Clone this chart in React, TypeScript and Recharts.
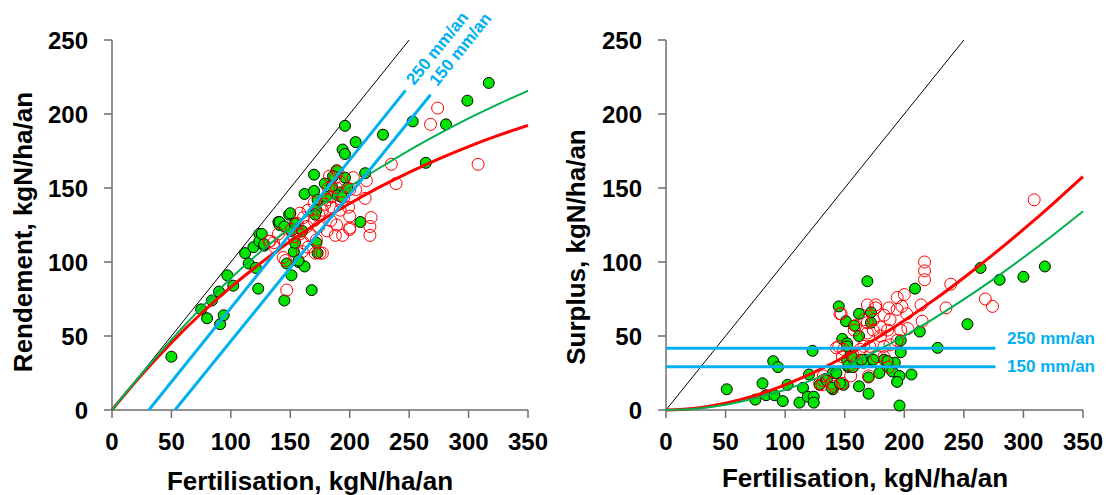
import {
  ComposedChart,
  Scatter,
  Line,
  XAxis,
  YAxis,
  ReferenceLine,
  ReferenceDot,
  Label,
} from "recharts";

const xTicks = [0, 50, 100, 150, 200, 250, 300, 350];
const yTicks = [0, 50, 100, 150, 200, 250];

// Rendement (left panel) - filled green points
const rendGreenX = [
  50, 75, 80, 84, 90, 91, 94, 97, 102, 112, 115, 119, 121, 123, 124, 124, 128, 140, 141, 145,
  147, 149, 151, 153, 154, 157, 162, 168, 172, 173, 209, 151, 196, 205, 194, 196, 228, 253, 281, 299,
  317, 264, 213, 189, 186, 196, 170, 179, 162, 170, 192, 198, 185, 150, 173, 180, 190, 193, 141, 145,
  154, 126, 128, 160, 172, 171, 157,
];
const rendGreenY = [
  36, 68, 62, 74, 80, 58, 64, 91, 84, 106, 99, 110, 96, 82, 119, 114, 111, 127, 125, 74,
  99, 132, 91, 107, 113, 100, 97, 81, 113, 106, 127, 121, 192, 181, 176, 173, 186, 195, 193, 209,
  221, 167, 160, 162, 158, 157, 159, 153, 146, 148, 147, 150, 151, 133, 142, 144, 145, 144, 127, 124,
  126, 119, 112, 121, 135, 132, 101,
];

// Rendement (left panel) - open red points
const rendRedX = [
  274, 268, 235, 239, 308, 214, 213, 218, 217, 217, 200, 200, 194, 188, 189, 192, 184, 181, 175, 171,
  165, 167, 172, 174, 170, 165, 177, 181, 185, 189, 192, 188, 200, 205, 195, 158, 156, 161, 151, 153,
  144, 140, 133, 137, 161, 160, 144, 147, 177, 185, 193, 199, 179, 170, 174, 164, 158, 182, 203, 132,
  136, 146, 200, 190, 183,
];
const rendRedY = [
  204, 193, 166, 153, 166, 155, 143, 130, 124, 118, 131, 123, 118, 118, 125, 135, 128, 121, 106, 106,
  110, 118, 115, 124, 128, 135, 135, 142, 144, 150, 154, 157, 149, 149, 144, 133, 126, 130, 122, 117,
  115, 119, 114, 110, 113, 107, 103, 81, 106, 137, 140, 137, 139, 140, 132, 124, 119, 150, 157, 114,
  113, 101, 122, 161, 158,
];

// Surplus (right panel) - filled green points
const surpGreenX = [
  51, 81, 75, 84, 91, 98, 90, 94, 102, 112, 115, 119, 124, 124, 120, 123, 129, 134, 140, 140,
  149, 145, 148, 151, 152, 155, 153, 158, 162, 162, 169, 170, 170, 172, 172, 167, 173, 179, 183, 188,
  190, 196, 194, 196, 197, 197, 206, 209, 213, 228, 253, 264, 280, 300, 318, 192, 186, 166, 152, 162,
  135, 139, 143, 146, 153, 157, 152, 156, 164, 174,
];
const surpGreenY = [
  14, 18, 7, 10, 10, 6, 33, 29, 17, 5, 15, 9, 9, 5, 24, 40, 17, 21, 14, 25,
  17, 70, 48, 60, 45, 38, 29, 57, 65, 16, 87, 11, 22, 66, 59, 34, 34, 25, 34, 28,
  26, 23, 19, 3, 39, 47, 24, 82, 53, 42, 58, 96, 88, 90, 97, 32, 33, 32, 34, 50,
  20, 15, 25, 18, 30, 29, 43, 36, 34, 34,
];

// Surplus (right panel) - open red points
const surpRedX = [
  217, 217, 217, 239, 268, 274, 235, 214, 215, 203, 200, 194, 198, 187, 176, 183, 188, 197, 194, 188,
  180, 174, 169, 166, 158, 147, 143, 149, 157, 160, 155, 170, 177, 183, 187, 171, 166, 132, 148, 141,
  131, 194, 202, 180, 186, 163, 183, 174, 309, 146, 132, 129, 145, 139, 148, 159, 169, 176, 169,
];
const surpRedY = [
  100, 94, 88, 85, 75, 70, 69, 71, 60, 55, 78, 76, 70, 69, 71, 64, 61, 54, 47, 44,
  50, 54, 52, 61, 54, 65, 42, 41, 37, 32, 23, 23, 36, 43, 29, 43, 43, 20, 18, 16,
  17, 68, 65, 56, 54, 41, 36, 61, 142, 65, 23, 18, 43, 18, 36, 57, 71, 69, 59,
];

// fitted curves, every 25 kgN
const curveX = [0, 25, 50, 75, 100, 125, 150, 175, 200, 225, 250, 275, 300, 325, 350];
const rendRedCurve = [0, 23.8, 45.5, 65.2, 83.0, 99.2, 114.0, 127.4, 139.5, 150.6, 160.6, 169.7, 178.0, 185.5, 192.3];
const rendGreenCurve = [0, 24.5, 47.5, 69, 89, 107, 123, 137.5, 151, 163.5, 175.5, 186.6, 197.0, 206.7, 215.7];
const surpRedCurve = [0, 1.2, 4.5, 9.8, 17.0, 25.8, 36.0, 47.6, 60.5, 74.4, 89.4, 105.3, 122.0, 139.5, 157.7];
const surpGreenCurve = [0, 0.9, 3.6, 7.9, 13.7, 21.0, 29.5, 39.2, 50.0, 61.9, 74.7, 88.4, 103.0, 118.3, 134.3];

// rainfall reference lines
const rainLabels = ["250 mm/an", "150 mm/an"];
const rendRainStartX = [31, 53];
const rendRainEndX = [247, 268];
const rendRainEndY = [216, 213];
const rendRainLabelX = [254.2, 273.6];
const rendRainLabelY = [218.9, 218.2];
const surpRainY = [41.7, 29.3];
const surpRainEndX = 276.5;
const surpRainLabelX = 286.3;
const surpRainLabelY = [44.6, 26.0];

const zip = (xs: number[], ys: number[]) => xs.map((x, i) => ({ x, y: ys[i] }));

const FONT = "'Liberation Sans', Arial, sans-serif";
const AXIS_GREY = "#6e6e6e";
const BLUE = "#00b0f0";
const GREEN_DOT = "#00e400";
const GREEN_LINE = "#00b050";
const RED = "#ff0000";

const greenDot = (p: any) => (
  <circle cx={p.cx} cy={p.cy} r={5.5} fill={GREEN_DOT} stroke="#000" strokeWidth={1} />
);
const redDot = (p: any) => (
  <circle cx={p.cx} cy={p.cy} r={6} fill="none" stroke={RED} strokeWidth={1} />
);

const tickStyle = { fill: "#000", fontSize: 24, fontWeight: "bold", fontFamily: FONT };

function rainText(label: string, angle: number) {
  return (p: any) => (
    <text
      x={p.cx}
      y={p.cy}
      transform={angle ? `rotate(${angle} ${p.cx} ${p.cy})` : undefined}
      fill={BLUE}
      fontSize={17}
      fontWeight="bold"
      fontFamily={FONT}
      textAnchor="start"
    >
      {label}
    </text>
  );
}

interface PanelProps {
  yTitle: string;
  yTitleX: number;
  yTitleY: number;
  xTitleX: number;
  xTitleY: number;
  yAxisWidth: number;
  marginRight: number;
  green: { x: number; y: number }[];
  red: { x: number; y: number }[];
  greenCurve: { x: number; y: number }[];
  redCurve: { x: number; y: number }[];
  extras: any[];
}

function Panel(props: PanelProps) {
  return (
    <ComposedChart
      width={553}
      height={495}
      margin={{ top: 40, right: props.marginRight, left: 0, bottom: 0 }}
    >
      <XAxis
        type="number"
        dataKey="x"
        domain={[0, 350]}
        ticks={xTicks}
        tickSize={8}
        tickMargin={15}
        height={85}
        tick={tickStyle}
        axisLine={{ stroke: AXIS_GREY, strokeWidth: 1.5 }}
        tickLine={{ stroke: AXIS_GREY, strokeWidth: 1.5 }}
      >
        <Label
          content={() => (
            <text
              x={props.xTitleX}
              y={props.xTitleY}
              textAnchor="middle"
              fontSize={26}
              fontWeight="bold"
              fontFamily={FONT}
              fill="#000"
            >
              Fertilisation, kgN/ha/an
            </text>
          )}
        />
      </XAxis>
      <YAxis
        type="number"
        dataKey="y"
        domain={[0, 250]}
        ticks={yTicks}
        width={props.yAxisWidth}
        tickSize={8}
        tickMargin={16}
        tick={tickStyle}
        axisLine={{ stroke: AXIS_GREY, strokeWidth: 1.5 }}
        tickLine={{ stroke: AXIS_GREY, strokeWidth: 1.5 }}
      >
        <Label
          content={() => (
            <text
              x={props.yTitleX}
              y={props.yTitleY}
              transform={`rotate(-90 ${props.yTitleX} ${props.yTitleY})`}
              textAnchor="middle"
              fontSize={26}
              fontWeight="bold"
              fontFamily={FONT}
              fill="#000"
            >
              {props.yTitle}
            </text>
          )}
        />
      </YAxis>
      <ReferenceLine
        segment={[
          { x: 0, y: 0 },
          { x: 250, y: 250 },
        ]}
        stroke="#000"
        strokeWidth={1}
        ifOverflow="visible"
      />
      <Scatter data={props.green} shape={greenDot} isAnimationActive={false} zIndex={600} />
      <Scatter data={props.red} shape={redDot} isAnimationActive={false} zIndex={610} />
      <Line
        data={props.redCurve}
        dataKey="y"
        type="monotone"
        stroke={RED}
        strokeWidth={3}
        dot={false}
        activeDot={false}
        isAnimationActive={false}
        zIndex={650}
      />
      <Line
        data={props.greenCurve}
        dataKey="y"
        type="monotone"
        stroke={GREEN_LINE}
        strokeWidth={2}
        dot={false}
        activeDot={false}
        isAnimationActive={false}
        zIndex={660}
      />
      {props.extras}
    </ComposedChart>
  );
}

export default function App() {
  const leftExtras = [
    ...rainLabels.map((lab, i) => (
      <ReferenceLine
        key={"rl" + i}
        segment={[
          { x: rendRainStartX[i], y: 0 },
          { x: rendRainEndX[i], y: rendRainEndY[i] },
        ]}
        stroke={BLUE}
        strokeWidth={3}
        ifOverflow="visible"
        zIndex={680}
      />
    )),
    ...rainLabels.map((lab, i) => (
      <ReferenceDot
        key={"rlt" + i}
        x={rendRainLabelX[i]}
        y={rendRainLabelY[i]}
        r={0}
        ifOverflow="visible"
        zIndex={690}
        shape={rainText(lab, -51.2)}
      />
    )),
  ];
  const rightExtras = [
    ...rainLabels.map((lab, i) => (
      <ReferenceLine
        key={"rr" + i}
        segment={[
          { x: 0, y: surpRainY[i] },
          { x: surpRainEndX, y: surpRainY[i] },
        ]}
        stroke={BLUE}
        strokeWidth={3}
        ifOverflow="visible"
        zIndex={680}
      />
    )),
    ...rainLabels.map((lab, i) => (
      <ReferenceDot
        key={"rt" + i}
        x={surpRainLabelX}
        y={surpRainLabelY[i]}
        r={0}
        ifOverflow="visible"
        zIndex={690}
        shape={rainText(lab, 0)}
      />
    )),
  ];

  return (
    <div
      style={{
        position: "absolute",
        left: 0,
        top: 0,
        width: 1106,
        height: 495,
        display: "flex",
        background: "#fff",
      }}
    >
      <Panel
        yTitle="Rendement, kgN/ha/an"
        yTitleX={32}
        yTitleY={232}
        xTitleX={310}
        xTitleY={490}
        yAxisWidth={112}
        marginRight={25}
        green={zip(rendGreenX, rendGreenY)}
        red={zip(rendRedX, rendRedY)}
        greenCurve={zip(curveX, rendGreenCurve)}
        redCurve={zip(curveX, rendRedCurve)}
        extras={leftExtras}
      />
      <Panel
        yTitle="Surplus, kgN/ha/an"
        yTitleX={32}
        yTitleY={247}
        xTitleX={312}
        xTitleY={487}
        yAxisWidth={113}
        marginRight={23}
        green={zip(surpGreenX, surpGreenY)}
        red={zip(surpRedX, surpRedY)}
        greenCurve={zip(curveX, surpGreenCurve)}
        redCurve={zip(curveX, surpRedCurve)}
        extras={rightExtras}
      />
    </div>
  );
}
